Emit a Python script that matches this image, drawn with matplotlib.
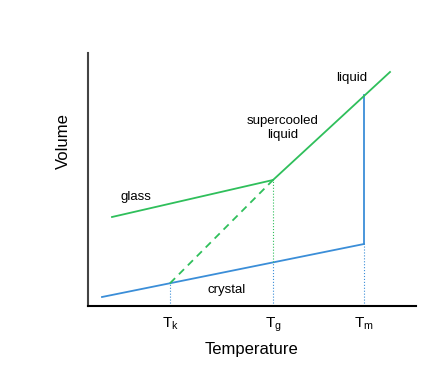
import matplotlib
matplotlib.use("Agg")
import matplotlib.pyplot as plt

plt.rcParams['font.family'] = ['Liberation Sans', 'DejaVu Sans']
plt.rcParams['mathtext.fontset'] = 'custom'
plt.rcParams['mathtext.rm'] = 'Liberation Sans'
plt.rcParams['mathtext.it'] = 'Liberation Sans'

# Schematic values (arbitrary units)
T_k, T_g, T_m = 170, 273, 364
crystal_T = [102, 364]
crystal_V = [9, 62]
glass_T = [112, 273]
glass_V = [89, 126]
liquid_T = [273, 390]
liquid_V = [126, 234]
melt_V = [62, 211]
tick_pos = [T_k, T_g, T_m]
tick_labels = [r'T$_\mathregular{k}$', r'T$_\mathregular{g}$', r'T$_\mathregular{m}$']

green = '#2fbf5b'
blue = '#3b8ed8'

W, H = 445, 366
fig = plt.figure(figsize=(W/100, H/100), dpi=100)
ax = fig.add_axes([88/W, (366-306)/H, (416-88)/W, (306-53)/H])
ax.set_xlim(88, 416)
ax.set_ylim(0, 253)

def v_at(T, Ts, Vs):
    return Vs[0] + (Vs[1]-Vs[0])*(T-Ts[0])/(Ts[1]-Ts[0])

V_k = v_at(T_k, crystal_T, crystal_V)
V_gc = v_at(T_g, crystal_T, crystal_V)

ax.plot(crystal_T, crystal_V, color=blue, lw=1.3)
ax.plot([T_m, T_m], melt_V, color=blue, lw=1.3)
ax.plot(glass_T, glass_V, color=green, lw=1.3)
ax.plot(liquid_T, liquid_V, color=green, lw=1.3)
ax.plot([T_k, T_g], [V_k, glass_V[1]], color=green, lw=1.3, ls=(0, (4, 3)))

# dotted guides
ax.plot([T_k, T_k], [0, V_k], color=blue, lw=0.8, ls=':')
ax.plot([T_g, T_g], [0, V_gc], color=blue, lw=0.8, ls=':')
ax.plot([T_g, T_g], [V_gc, glass_V[1]], color=green, lw=0.8, ls=':')
ax.plot([T_m, T_m], [0, crystal_V[1]], color=blue, lw=0.8, ls=':')

ax.text(136, 109, 'glass', fontsize=9.5, ha='center', va='center')
ax.text(283, 178, 'supercooled\nliquid', fontsize=9.5, ha='center', va='center', linespacing=1.2)
ax.text(352, 228, 'liquid', fontsize=9.5, ha='center', va='center')
ax.text(227, 16, 'crystal', fontsize=9.5, ha='center', va='center')

ax.set_xticks(tick_pos)
ax.set_xticklabels(tick_labels, fontsize=11)
ax.set_yticks([])
ax.tick_params(axis='x', length=0, pad=7)
for s in ['top', 'right']:
    ax.spines[s].set_visible(False)
ax.spines['left'].set_linewidth(1.5)
ax.spines['left'].set_color('#444444')
ax.spines['bottom'].set_linewidth(1.5)
ax.set_xlabel('Temperature', fontsize=12)
ax.set_ylabel('Volume', fontsize=12)
ax.xaxis.set_label_coords(0.5, -0.143)
ax.yaxis.set_label_coords(-0.052, 0.652)

fig.savefig('out.png', dpi=100)
